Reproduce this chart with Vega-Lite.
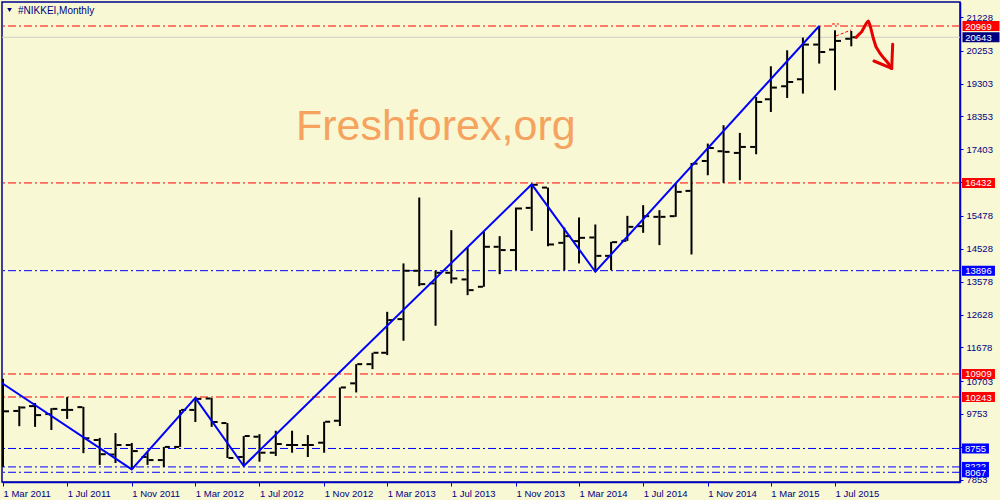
{
  "$schema": "https://vega.github.io/schema/vega-lite/v6.json",
  "width": 958,
  "height": 480,
  "autosize": {"type": "none"},
  "padding": {"left": 2, "top": 2, "right": 40, "bottom": 18},
  "background": "#f8f8d4",
  "config": {
    "view": {"stroke": "#000090", "strokeWidth": 1.5, "fill": "#f8f8d4"},
    "font": "Liberation Sans"
  },
  "data": {"values": [{}]},
  "datasets": {
    "ohlc": [
      {"date": "2011-03-01", "open": 10620, "high": 10770, "low": 8222, "close": 9830},
      {"date": "2011-04-01", "open": 9840, "high": 9980, "low": 9400, "close": 9940},
      {"date": "2011-05-01", "open": 9980, "high": 10070, "low": 9380, "close": 9720},
      {"date": "2011-06-01", "open": 9750, "high": 9920, "low": 9290, "close": 9900},
      {"date": "2011-07-01", "open": 9870, "high": 10240, "low": 9610, "close": 9870},
      {"date": "2011-08-01", "open": 9950, "high": 9960, "low": 8620, "close": 9050},
      {"date": "2011-09-01", "open": 9000, "high": 9060, "low": 8280, "close": 8590},
      {"date": "2011-10-01", "open": 8580, "high": 9200, "low": 8335, "close": 8855},
      {"date": "2011-11-01", "open": 8855, "high": 8915, "low": 8150, "close": 8680},
      {"date": "2011-12-01", "open": 8510, "high": 8655, "low": 8280, "close": 8420},
      {"date": "2012-01-01", "open": 8420, "high": 8800, "low": 8220, "close": 8800},
      {"date": "2012-02-01", "open": 8800, "high": 9870, "low": 8800, "close": 9870},
      {"date": "2012-03-01", "open": 9870, "high": 10220, "low": 9520, "close": 10190},
      {"date": "2012-04-01", "open": 10200, "high": 10215, "low": 9380, "close": 9520},
      {"date": "2012-05-01", "open": 9490, "high": 9490, "low": 8480, "close": 8480},
      {"date": "2012-06-01", "open": 8510, "high": 9115, "low": 8248, "close": 9115},
      {"date": "2012-07-01", "open": 9095, "high": 9170, "low": 8373, "close": 8633},
      {"date": "2012-08-01", "open": 8633, "high": 9268, "low": 8538, "close": 8884},
      {"date": "2012-09-01", "open": 8855, "high": 9268, "low": 8633, "close": 8855},
      {"date": "2012-10-01", "open": 8855, "high": 9143, "low": 8509, "close": 8855},
      {"date": "2012-11-01", "open": 8922, "high": 9528, "low": 8633, "close": 9528},
      {"date": "2012-12-01", "open": 9557, "high": 10519, "low": 9404, "close": 10519},
      {"date": "2013-01-01", "open": 10638, "high": 11193, "low": 10375, "close": 11193},
      {"date": "2013-02-01", "open": 11193, "high": 11522, "low": 11050, "close": 11522},
      {"date": "2013-03-01", "open": 11522, "high": 12706, "low": 11455, "close": 12466},
      {"date": "2013-04-01", "open": 12495, "high": 14105, "low": 11870, "close": 13893},
      {"date": "2013-05-01", "open": 13893, "high": 16010, "low": 13448, "close": 13506},
      {"date": "2013-06-01", "open": 13528, "high": 13893, "low": 12304, "close": 13835},
      {"date": "2013-07-01", "open": 13835, "high": 15067, "low": 13528, "close": 13670},
      {"date": "2013-08-01", "open": 13642, "high": 14567, "low": 13188, "close": 13333},
      {"date": "2013-09-01", "open": 13430, "high": 15019, "low": 13430, "close": 14586},
      {"date": "2013-10-01", "open": 14586, "high": 14894, "low": 13795, "close": 14491},
      {"date": "2013-11-01", "open": 14491, "high": 15722, "low": 13911, "close": 15693},
      {"date": "2013-12-01", "open": 15711, "high": 16390, "low": 15047, "close": 16380},
      {"date": "2014-01-01", "open": 16298, "high": 16298, "low": 14602, "close": 14653},
      {"date": "2014-02-01", "open": 14700, "high": 15144, "low": 13911, "close": 14894},
      {"date": "2014-03-01", "open": 14749, "high": 15433, "low": 14105, "close": 14845},
      {"date": "2014-04-01", "open": 14855, "high": 15231, "low": 13865, "close": 14324},
      {"date": "2014-05-01", "open": 14324, "high": 14730, "low": 13911, "close": 14720},
      {"date": "2014-06-01", "open": 14758, "high": 15480, "low": 14758, "close": 15163},
      {"date": "2014-07-01", "open": 15182, "high": 15789, "low": 14990, "close": 15471},
      {"date": "2014-08-01", "open": 15452, "high": 15645, "low": 14634, "close": 15452},
      {"date": "2014-09-01", "open": 15471, "high": 16433, "low": 15452, "close": 16173},
      {"date": "2014-10-01", "open": 16202, "high": 17010, "low": 14364, "close": 16991},
      {"date": "2014-11-01", "open": 17066, "high": 17570, "low": 16654, "close": 17442},
      {"date": "2014-12-01", "open": 17349, "high": 18100, "low": 16433, "close": 17330},
      {"date": "2015-01-01", "open": 17300, "high": 17878, "low": 16510, "close": 17473},
      {"date": "2015-02-01", "open": 17473, "high": 18918, "low": 17262, "close": 18773},
      {"date": "2015-03-01", "open": 18851, "high": 19805, "low": 18484, "close": 19189},
      {"date": "2015-04-01", "open": 19227, "high": 20267, "low": 18889, "close": 19351},
      {"date": "2015-05-01", "open": 19429, "high": 20634, "low": 19016, "close": 20432},
      {"date": "2015-06-01", "open": 20432, "high": 20969, "low": 19883, "close": 20218},
      {"date": "2015-07-01", "open": 20287, "high": 20845, "low": 19112, "close": 20538},
      {"date": "2015-08-01", "open": 20600, "high": 20825, "low": 20382, "close": 20643}
    ],
    "zigzag": [
      {"date": "2011-02-01", "value": 10909},
      {"date": "2011-11-01", "value": 8150},
      {"date": "2012-03-01", "value": 10220},
      {"date": "2012-06-01", "value": 8248},
      {"date": "2013-12-01", "value": 16390},
      {"date": "2014-04-01", "value": 13865},
      {"date": "2015-06-01", "value": 20969}
    ],
    "levels": [
      {"value": 20969, "kind": "resistance"},
      {"value": 20643, "kind": "price"},
      {"value": 16432, "kind": "resistance"},
      {"value": 13896, "kind": "support"},
      {"value": 10909, "kind": "resistance"},
      {"value": 10243, "kind": "resistance"},
      {"value": 8755, "kind": "support"},
      {"value": 8222, "kind": "support"},
      {"value": 8067, "kind": "support"}
    ],
    "arrow": [
      {"part": "shaft", "i": 1, "date": "2015-08-10T00:00:00Z", "value": 20642},
      {"part": "shaft", "i": 2, "date": "2015-08-20T19:00:00Z", "value": 20804},
      {"part": "shaft", "i": 3, "date": "2015-08-30T07:00:00Z", "value": 21064},
      {"part": "shaft", "i": 4, "date": "2015-09-02T10:00:00Z", "value": 21114},
      {"part": "shaft", "i": 5, "date": "2015-09-05T14:00:00Z", "value": 20998},
      {"part": "shaft", "i": 6, "date": "2015-09-08T19:00:00Z", "value": 20804},
      {"part": "shaft", "i": 7, "date": "2015-09-11T22:00:00Z", "value": 20613},
      {"part": "shaft", "i": 8, "date": "2015-09-17T00:00:00Z", "value": 20371},
      {"part": "shaft", "i": 9, "date": "2015-09-24T14:00:00Z", "value": 20180},
      {"part": "shaft", "i": 10, "date": "2015-10-02T05:00:00Z", "value": 20035},
      {"part": "shaft", "i": 11, "date": "2015-10-10T10:00:00Z", "value": 19891},
      {"part": "shaft", "i": 12, "date": "2015-10-16T22:00:00Z", "value": 19746},
      {"part": "headA", "i": 1, "date": "2015-09-13T05:00:00Z", "value": 19957},
      {"part": "headA", "i": 2, "date": "2015-10-16T22:00:00Z", "value": 19746},
      {"part": "headB", "i": 1, "date": "2015-10-18T19:00:00Z", "value": 20440},
      {"part": "headB", "i": 2, "date": "2015-10-16T22:00:00Z", "value": 19746}
    ],
    "trail": [
      {"part": "top", "i": 1, "date": "2015-06-25T07:00:00Z", "value": 21027},
      {"part": "top", "i": 2, "date": "2015-07-08T14:00:00Z", "value": 21027},
      {"part": "link", "i": 1, "date": "2015-07-03T00:00:00Z", "value": 20680},
      {"part": "link", "i": 2, "date": "2015-07-31T10:00:00Z", "value": 20853}
    ]
  },
  "encoding": {
    "x": {
      "type": "temporal",
      "title": null,
      "scale": {"type": "utc", "nice": false, "domain": [{"year": 2011, "month": 2, "date": 27, "hours": 2, "utc": true}, {"year": 2016, "month": 2, "date": 23, "hours": 21, "utc": true}]},
      "axis": {
        "orient": "bottom",
        "values": [
          {"year": 2011, "month": 3, "date": 1, "utc": true}, {"year": 2011, "month": 7, "date": 1, "utc": true}, {"year": 2011, "month": 11, "date": 1, "utc": true},
          {"year": 2012, "month": 3, "date": 1, "utc": true}, {"year": 2012, "month": 7, "date": 1, "utc": true}, {"year": 2012, "month": 11, "date": 1, "utc": true},
          {"year": 2013, "month": 3, "date": 1, "utc": true}, {"year": 2013, "month": 7, "date": 1, "utc": true}, {"year": 2013, "month": 11, "date": 1, "utc": true},
          {"year": 2014, "month": 3, "date": 1, "utc": true}, {"year": 2014, "month": 7, "date": 1, "utc": true}, {"year": 2014, "month": 11, "date": 1, "utc": true},
          {"year": 2015, "month": 3, "date": 1, "utc": true}, {"year": 2015, "month": 7, "date": 1, "utc": true}
        ],
        "labelExpr": "utcFormat(datum.value, '%-d %b %Y')",
        "labelAlign": "left", "labelBaseline": "top", "labelPadding": 2,
        "labelFont": "Liberation Sans", "labelFontSize": 9.5, "labelColor": "#000080",
        "labelFlush": false, "labelOverlap": false,
        "tickSize": 4, "tickColor": "#0000c8",
        "domainColor": "#0000c8", "domainWidth": 1.5, "grid": false, "title": null
      }
    },
    "y": {
      "type": "quantitative",
      "title": null,
      "scale": {"domain": [7786, 21663], "nice": false, "zero": false},
      "axis": {
        "orient": "right",
        "values": [21228, 20253, 19303, 18353, 17403, 16453, 15478, 14528, 13578, 12628, 11678, 10703, 9753, 8803, 7853],
        "format": "d",
        "labelAlign": "left", "labelBaseline": "middle", "labelPadding": 3,
        "labelFont": "Liberation Sans", "labelFontSize": 9.5, "labelColor": "#000080",
        "labelFlush": false, "labelOverlap": false,
        "tickSize": 3, "tickColor": "#0000c8",
        "domainColor": "#0000c8", "domainWidth": 1.5, "grid": false, "title": null
      }
    }
  },
  "layer": [
    {
      "data": {"name": "levels"},
      "transform": [{"filter": "datum.kind === 'price'"}],
      "mark": {"type": "rule", "color": "#cfcfc4", "strokeWidth": 1},
      "encoding": {"y": {"field": "value"}}
    },
    {
      "data": {"name": "levels"},
      "transform": [{"filter": "datum.kind !== 'price'"}],
      "mark": {"type": "rule", "strokeWidth": 1, "strokeDash": [8, 3, 2, 3]},
      "encoding": {
        "y": {"field": "value"},
        "color": {"field": "kind", "type": "nominal", "legend": null, "scale": {"domain": ["resistance", "support", "price"], "range": ["#ff0000", "#0000ff", "#000080"]}}
      }
    },
    {
      "mark": {"type": "text", "text": "Freshforex,org", "font": "Liberation Sans", "fontSize": 43, "fill": "#f5a35e", "align": "left", "baseline": "alphabetic"},
      "encoding": {
        "x": {"datum": {"year": 2012, "month": 9, "date": 8, "hours": 12, "utc": true}},
        "y": {"datum": 17673}
      }
    },
    {
      "data": {"name": "ohlc"},
      "mark": {"type": "rule", "color": "#000000", "strokeWidth": 2, "clip": true},
      "encoding": {
        "x": {"field": "date"},
        "y": {"field": "low"},
        "y2": {"field": "high"}
      }
    },
    {
      "data": {"name": "ohlc"},
      "mark": {"type": "rule", "color": "#000000", "strokeWidth": 2, "xOffset": -6, "x2Offset": -1, "clip": true},
      "encoding": {
        "x": {"field": "date"},
        "x2": {"field": "date"},
        "y": {"field": "open"}
      }
    },
    {
      "data": {"name": "ohlc"},
      "mark": {"type": "rule", "color": "#000000", "strokeWidth": 2, "xOffset": 1, "x2Offset": 6, "clip": true},
      "encoding": {
        "x": {"field": "date"},
        "x2": {"field": "date"},
        "y": {"field": "close"}
      }
    },
    {
      "data": {"name": "zigzag"},
      "mark": {"type": "line", "color": "#0000ff", "strokeWidth": 2, "clip": true},
      "encoding": {
        "x": {"field": "date"},
        "y": {"field": "value"}
      }
    },
    {
      "data": {"name": "trail"},
      "mark": {"type": "line", "color": "#ff0000", "strokeWidth": 1, "strokeDash": [3, 2]},
      "encoding": {
        "x": {"field": "date"},
        "y": {"field": "value"},
        "detail": {"field": "part", "type": "nominal"},
        "order": {"field": "i", "type": "quantitative"}
      }
    },
    {
      "data": {"name": "arrow"},
      "mark": {"type": "line", "color": "#e60000", "strokeWidth": 3, "strokeCap": "round", "strokeJoin": "round"},
      "encoding": {
        "x": {"field": "date"},
        "y": {"field": "value"},
        "detail": {"field": "part", "type": "nominal"},
        "order": {"field": "i", "type": "quantitative"}
      }
    },
    {
      "mark": {"type": "text", "text": "#NIKKEI,Monthly", "font": "Liberation Sans", "fontSize": 10, "fill": "#000080", "align": "left", "baseline": "middle"},
      "encoding": {
        "x": {"datum": {"year": 2011, "month": 3, "date": 29, "hours": 12, "utc": true}},
        "y": {"datum": 21417}
      }
    },
    {
      "mark": {"type": "point", "shape": "triangle-down", "filled": true, "size": 22, "fill": "#000080", "opacity": 1},
      "encoding": {
        "x": {"datum": {"year": 2011, "month": 3, "date": 13, "hours": 10, "utc": true}},
        "y": {"datum": 21432}
      }
    },
    {
      "data": {"name": "levels"},
      "transform": [{"filter": "datum.value >= 20000"}],
      "mark": {"type": "tick", "orient": "horizontal", "size": 37, "thickness": 10, "opacity": 1},
      "encoding": {
        "x": {"datum": {"year": 2016, "month": 4, "date": 3, "hours": 19, "utc": true}},
        "y": {"field": "value"},
        "color": {"field": "kind", "type": "nominal", "legend": null, "scale": {"domain": ["resistance", "support", "price"], "range": ["#ff0000", "#0000ff", "#000080"]}}
      }
    },
    {
      "data": {"name": "levels"},
      "transform": [{"filter": "datum.value >= 10000 && datum.value < 20000"}],
      "mark": {"type": "tick", "orient": "horizontal", "size": 33, "thickness": 10, "opacity": 1},
      "encoding": {
        "x": {"datum": {"year": 2016, "month": 3, "date": 30, "utc": true}},
        "y": {"field": "value"},
        "color": {"field": "kind", "type": "nominal", "legend": null, "scale": {"domain": ["resistance", "support", "price"], "range": ["#ff0000", "#0000ff", "#000080"]}}
      }
    },
    {
      "data": {"name": "levels"},
      "transform": [{"filter": "datum.value >= 10000"}],
      "mark": {"type": "text", "font": "Liberation Sans", "fontSize": 9.5, "fill": "#ffffff", "align": "center", "baseline": "middle", "dy": 0.5},
      "encoding": {
        "x": {"datum": {"year": 2016, "month": 3, "date": 30, "utc": true}},
        "y": {"field": "value"},
        "text": {"field": "value", "type": "quantitative", "format": "d"}
      }
    },
    {
      "data": {"name": "levels"},
      "transform": [{"filter": "datum.value === 8222"}],
      "mark": {"type": "tick", "orient": "horizontal", "size": 27, "thickness": 10, "opacity": 1},
      "encoding": {
        "x": {"datum": {"year": 2016, "month": 3, "date": 24, "hours": 7, "utc": true}},
        "y": {"field": "value"},
        "color": {"field": "kind", "type": "nominal", "legend": null, "scale": {"domain": ["resistance", "support", "price"], "range": ["#ff0000", "#0000ff", "#000080"]}}
      }
    },
    {
      "data": {"name": "levels"},
      "transform": [{"filter": "datum.value === 8222"}],
      "mark": {"type": "text", "font": "Liberation Sans", "fontSize": 9.5, "fill": "#ffffff", "align": "center", "baseline": "middle", "dy": 0.5},
      "encoding": {
        "x": {"datum": {"year": 2016, "month": 3, "date": 24, "hours": 7, "utc": true}},
        "y": {"field": "value"},
        "text": {"field": "value", "type": "quantitative", "format": "d"}
      }
    },
    {
      "data": {"name": "levels"},
      "transform": [{"filter": "datum.value < 10000 && datum.value !== 8222"}],
      "mark": {"type": "tick", "orient": "horizontal", "size": 27, "thickness": 10, "opacity": 1},
      "encoding": {
        "x": {"datum": {"year": 2016, "month": 3, "date": 24, "hours": 7, "utc": true}},
        "y": {"field": "value"},
        "color": {"field": "kind", "type": "nominal", "legend": null, "scale": {"domain": ["resistance", "support", "price"], "range": ["#ff0000", "#0000ff", "#000080"]}}
      }
    },
    {
      "data": {"name": "levels"},
      "transform": [{"filter": "datum.value < 10000 && datum.value !== 8222"}],
      "mark": {"type": "text", "font": "Liberation Sans", "fontSize": 9.5, "fill": "#ffffff", "align": "center", "baseline": "middle", "dy": 0.5},
      "encoding": {
        "x": {"datum": {"year": 2016, "month": 3, "date": 24, "hours": 7, "utc": true}},
        "y": {"field": "value"},
        "text": {"field": "value", "type": "quantitative", "format": "d"}
      }
    }
  ]
}
